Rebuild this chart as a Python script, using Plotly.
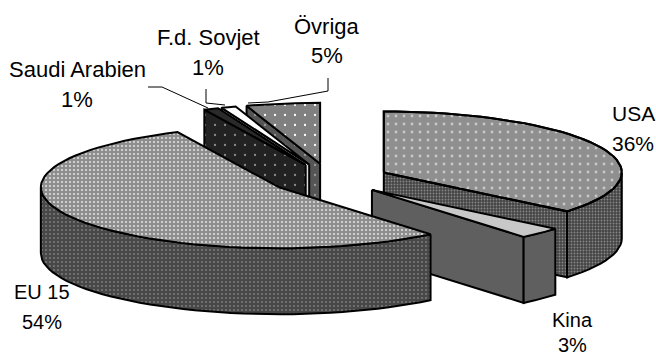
import math
import plotly.graph_objects as go

# ---- data ----
categories = ["USA", "Kina", "EU 15", "Saudi Arabien", "F.d. Sovjet", "Övriga"]
shares = [36, 3, 54, 1, 1, 5]

# ---- projection of the 3D pie, in pixels ----
CX, CY = 329.5, 179
RX, RY = 238, 61
DEPTH = 66
EXPLODE = 60

# style per slice: (top, cut face, outer wall); each is (bg, dot colour, dot size, solidity, optional coarse dots)
STY = {
    "USA": (("#666666", "#c4c4c4", 2, 0.5, ("#ffffff", 8, 0.1)),
            ("#444444", "#868686", 3, 0.3, None), ("#444444", "#868686", 3, 0.3, None)),
    "Kina": (("#c8c8c8", None, 0, 0, None), ("#5f5f5f", None, 0, 0, None), ("#5f5f5f", None, 0, 0, None)),
    "EU 15": (("#8e8e8e", "#e4e4e4", 4, 0.2, None), ("#484848", "#7c7c7c", 4, 0.2, None),
              ("#484848", "#7c7c7c", 4, 0.2, None)),
    "Saudi Arabien": (("#2a2a2a", None, 0, 0, None), ("#222222", "#8a8a8a", 10, 0.04, None),
                      ("#222222", "#8a8a8a", 10, 0.04, None)),
    "F.d. Sovjet": (("#ffffff", None, 0, 0, None), ("#dddddd", None, 0, 0, None), ("#dddddd", None, 0, 0, None)),
    "Övriga": (("#808080", "#ffffff", 10, 0.04, None), ("#555555", "#999999", 10, 0.04, None),
               ("#555555", "#999999", 10, 0.04, None)),
}
DRAW_ORDER = ["Övriga", "F.d. Sovjet", "Saudi Arabien", "USA", "Kina", "EU 15"]

# annotation layout: label centre x, first line y, second line y, font size
LABEL_POS = {
    "USA": (633, 113, 143, 21), "Kina": (572, 320, 345, 20), "EU 15": (42, 292, 322, 20),
    "Saudi Arabien": (77, 69, 99, 22), "F.d. Sovjet": (208, 37, 67, 22), "Övriga": (327, 26, 55, 22),
}
LEADERS = [
    ([148, 162, 208], [87, 87, 108]),
    ([206, 206, 225], [89, 103, 105]),
    ([328, 328, 268, 248], [78, 91, 102, 103]),
]

fig = go.Figure()


def poly(xs, ys, style):
    bg, fg, size, sol, coarse = style
    pat = dict(shape="") if fg is None else dict(shape=".", bgcolor=bg, fgcolor=fg, size=size, solidity=sol, fillmode="replace")
    kw = dict(fillpattern=pat) if fg is not None else {}
    fig.add_trace(go.Scatter(x=xs + xs[:1], y=ys + ys[:1], mode="lines", fill="toself", fillcolor=bg,
                             line=dict(color="black", width=2), hoverinfo="skip", showlegend=False, **kw))
    if coarse:
        c, s, so = coarse
        fig.add_trace(go.Scatter(x=xs + xs[:1], y=ys + ys[:1], mode="lines", fill="toself", fillcolor="rgba(0,0,0,0)",
                                 fillpattern=dict(shape=".", bgcolor="rgba(0,0,0,0)", fgcolor=c, size=s, solidity=so,
                                                  fillmode="overlay"),
                                 line=dict(color="black", width=2), hoverinfo="skip", showlegend=False))


total = sum(shares)
bounds = {}
acc = 0
for name, v in zip(categories, shares):
    bounds[name] = (acc / total * 360, (acc + v) / total * 360)
    acc += v


def rim(ax, ay, deg):
    t = math.radians(deg)
    return ax + RX * math.sin(t), ay - RY * math.cos(t)


for name in DRAW_ORDER:
    a0, a1 = bounds[name]
    mid = math.radians((a0 + a1) / 2)
    ax = CX + EXPLODE * math.sin(mid)
    ay = CY - EXPLODE * RY / RX * math.cos(mid)
    top_s, cut_s, wall_s = STY[name]

    # cut faces turned to the viewer
    if 180 <= a0 < 360:
        ex, ey = rim(ax, ay, a0)
        poly([ax, ex, ex, ax], [ay, ey, ey + DEPTH, ay + DEPTH], cut_s)
    if 0 < a1 <= 180:
        ex, ey = rim(ax, ay, a1)
        poly([ax, ex, ex, ax], [ay, ey, ey + DEPTH, ay + DEPTH], cut_s)

    # outer wall (front half of the rim)
    w0, w1 = max(a0, 90), min(a1, 270)
    if w1 > w0:
        n = max(2, int((w1 - w0) / 3))
        pts = [rim(ax, ay, w0 + (w1 - w0) * i / n) for i in range(n + 1)]
        xs = [p[0] for p in pts] + [p[0] for p in reversed(pts)]
        ys = [p[1] for p in pts] + [p[1] + DEPTH for p in reversed(pts)]
        poly(xs, ys, wall_s)

    # top surface
    n = max(2, int((a1 - a0) / 3))
    pts = [rim(ax, ay, a0 + (a1 - a0) * i / n) for i in range(n + 1)]
    poly([ax] + [p[0] for p in pts], [ay] + [p[1] for p in pts], top_s)

for lx, ly in LEADERS:
    fig.add_trace(go.Scatter(x=lx, y=ly, mode="lines", line=dict(color="black", width=1),
                             hoverinfo="skip", showlegend=False))

for name, v in zip(categories, shares):
    x, y1, y2, fs = LABEL_POS[name]
    for y, txt in ((y1, name), (y2, f"{v}%")):
        fig.add_annotation(x=x, y=y, text=txt, showarrow=False, xanchor="center", yanchor="middle",
                           font=dict(family="Liberation Sans", size=fs, color="black"))

fig.update_layout(width=656, height=356, margin=dict(l=0, r=0, t=0, b=0), paper_bgcolor="white",
                  plot_bgcolor="white", showlegend=False,
                  xaxis=dict(range=[0, 656], visible=False, fixedrange=True),
                  yaxis=dict(range=[356, 0], visible=False, fixedrange=True))
fig.write_html("out.html", config={"displayModeBar": False},
               post_script="document.body.style.margin='0';document.documentElement.style.overflow='hidden';")
